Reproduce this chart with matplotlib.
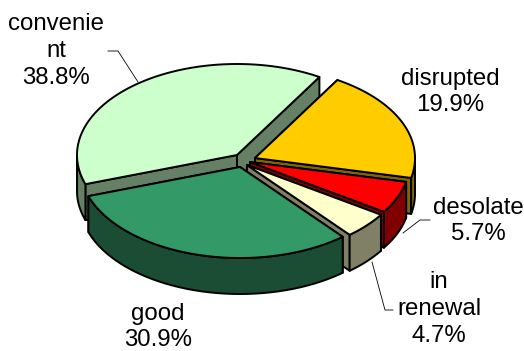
import numpy as np
from matplotlib import pyplot as plt
from matplotlib.patches import Polygon

plt.rcParams['font.family'] = ['Liberation Sans', 'DejaVu Sans']

# clockwise order starting from the orange slice
names = ['disrupted', 'desolate', 'in\nrenewal', 'good', 'convenie\nnt']
values = [19.9, 5.7, 4.7, 30.9, 38.8]
tops = ['#FFCC00', '#FF0000', '#FFFFCC', '#339966', '#CCFFCC']
walls = ['#806600', '#800000', '#808066', '#1A4D33', '#668066']

# pie geometry in pixels
centers = [(255, 158), (250, 162), (247, 165), (240, 167), (237, 155)]
rx = 160
ry = 91
depth = 36
start = 59
lw = 1.4

# painter order: back slices first
order = [4, 0, 1, 2, 3]
label_pos = [(450, 92), (478, 221), (439, 309), (158, 327), (56, 51)]


def rim(c, t):
    t = np.radians(t)
    return np.column_stack([c[0]+rx*np.cos(t), c[1]-ry*np.sin(t)])


fig = plt.figure(figsize=(5.24, 3.51), dpi=100)
ax = fig.add_axes([0, 0, 1, 1])
ax.set_xlim(0, 524)
ax.set_ylim(351, 0)
ax.axis('off')

ends = start-np.cumsum(values)*3.6
begins = np.r_[start, ends[:-1]]

for i in order:
    c = centers[i]
    t0, t1 = begins[i], ends[i]
    kw = dict(edgecolor='k', linewidth=lw, joinstyle='round')
    # radial cut walls
    for t in (t0, t1):
        p = rim(c, [t])[0]
        pts = [c, p, (p[0], p[1]+depth), (c[0], c[1]+depth)]
        ax.add_patch(Polygon(pts, facecolor=walls[i], **kw))
    # outer wall, front facing part only
    ts = np.linspace(t1, t0, 200)
    ts = ts[(np.sin(np.radians(ts)) <= 0)]
    if len(ts) > 1:
        up = rim(c, ts)
        down = up+[0, depth]
        ax.add_patch(Polygon(np.vstack([up, down[::-1]]), facecolor=walls[i], **kw))
    # top face
    arc = rim(c, np.linspace(t0, t1, 200))
    ax.add_patch(Polygon(np.vstack([[c], arc]), facecolor=tops[i], **kw))

# leader lines
leaders = [[(108, 51), (118, 51), (138, 82)],
           [(430, 220), (420, 220), (403, 233)],
           [(372, 262), (385, 310), (393, 310)]]
for l in leaders:
    ax.plot(*zip(*l), color='k', lw=0.6, zorder=0.5)

for n, v, p in zip(names, values, label_pos):
    ax.text(p[0], p[1], '%s\n%.1f%%' % (n, v), ha='center', va='center',
            fontsize=17.3, linespacing=1.27, color='k')

fig.savefig('out.png', dpi=100)
